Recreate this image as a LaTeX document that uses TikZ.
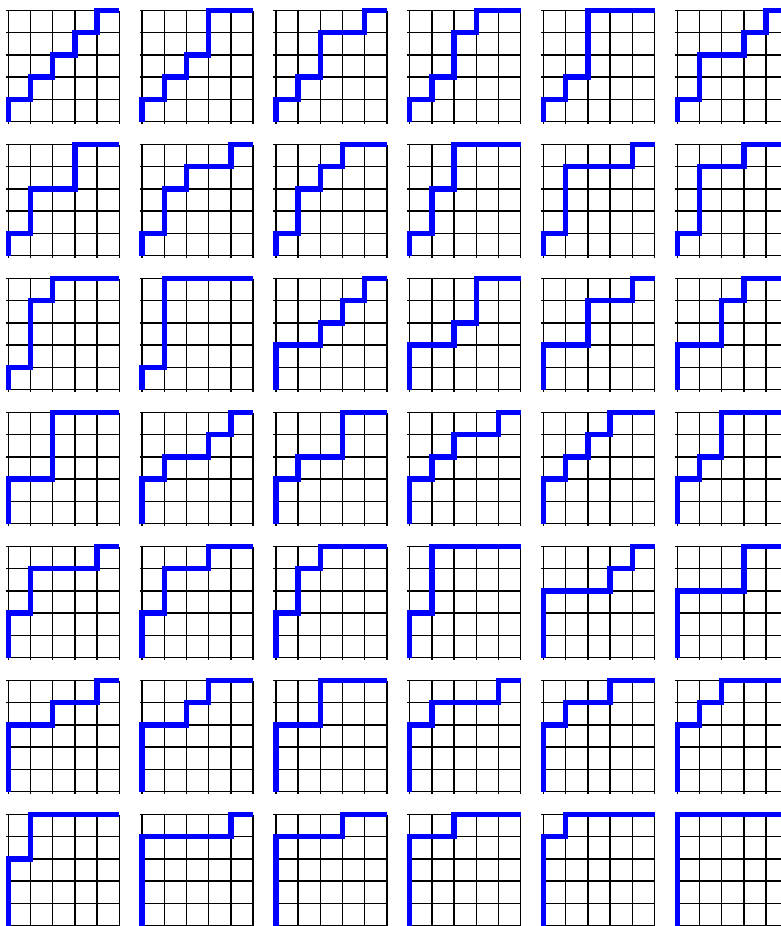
\documentclass[tikz,border=0pt]{standalone}
\begin{document}
\begin{tikzpicture}[x=1pt,y=-1pt,
  gridline/.style={line width=1.5pt,black},
  bluepath/.style={line width=5.5pt,color={rgb,255:red,0;green,0;blue,255},line join=miter,line cap=butt}]
\useasboundingbox (0,0) rectangle (781,926);
\fill[white] (0,0) rectangle (781,926);
\clip (0,0) rectangle (781,926);
\foreach \a/\b/\c/\d/\e [count=\k from 0] in {
1/2/3/4/5,1/2/3/5/5,1/2/4/4/5,1/2/4/5/5,1/2/5/5/5,1/3/3/4/5,
1/3/3/5/5,1/3/4/4/5,1/3/4/5/5,1/3/5/5/5,1/4/4/4/5,1/4/4/5/5,
1/4/5/5/5,1/5/5/5/5,2/2/3/4/5,2/2/3/5/5,2/2/4/4/5,2/2/4/5/5,
2/2/5/5/5,2/3/3/4/5,2/3/3/5/5,2/3/4/4/5,2/3/4/5/5,2/3/5/5/5,
2/4/4/4/5,2/4/4/5/5,2/4/5/5/5,2/5/5/5/5,3/3/3/4/5,3/3/3/5/5,
3/3/4/4/5,3/3/4/5/5,3/3/5/5/5,3/4/4/4/5,3/4/4/5/5,3/4/5/5/5,
3/5/5/5/5,4/4/4/4/5,4/4/4/5/5,4/4/5/5/5,4/5/5/5/5,5/5/5/5/5}{
  \pgfmathtruncatemacro\row{int(\k/6)}
  \pgfmathtruncatemacro\col{mod(\k,6)}
  \begin{scope}[shift={(8.3+133.8*\col,121.5+134*\row)},x=22.2pt,y=22.2pt]
    \foreach \t in {0,...,5}{
      \draw[gridline] (-0.11,\t) -- (5,\t);
      \draw[gridline] (\t,-0.11) -- (\t,5);
    }
    \draw[bluepath] (0,0) |- (1,\a) |- (2,\b) |- (3,\c) |- (4,\d) |- (5,\e);
  \end{scope}
}
\end{tikzpicture}
\end{document}
